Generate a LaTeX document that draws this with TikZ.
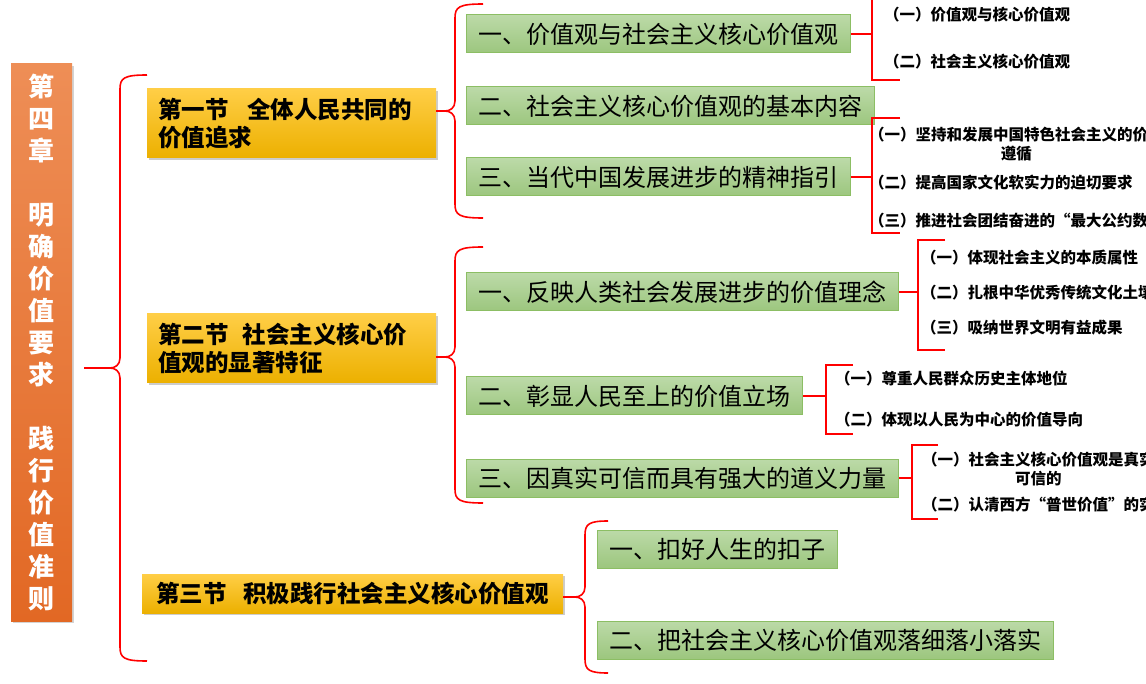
\documentclass[tikz,border=0pt]{standalone}
\usepackage{fontspec}
\setmainfont{Noto Sans CJK SC}
\newfontfamily\itemfont[RawFeature=+fwid]{Noto Sans CJK SC}
\usetikzlibrary{shadows}

\definecolor{chaptop}{RGB}{238,142,86}
\definecolor{chapbot}{RGB}{226,104,36}
\definecolor{secttop}{RGB}{255,206,70}
\definecolor{sectbot}{RGB}{236,176,0}
\definecolor{topictop}{RGB}{188,218,168}
\definecolor{topicbot}{RGB}{156,198,126}
\definecolor{topicline}{RGB}{140,190,100}
\definecolor{linkred}{RGB}{255,0,0}

% curly brace: spine x, end x, top y, tip y, bottom y
\newcommand{\curlybrace}[5]{%
  \draw[BraceStyle] (#2,#3) .. controls ({#1+4},#3) and (#1,{#3+3}) .. (#1,{#3+14})
    -- (#1,{#4-10}) .. controls (#1,{#4-3}) and ({#1-5},#4) .. ({#1-10},#4)
    .. controls ({#1-5},#4) and (#1,{#4+3}) .. (#1,{#4+10})
    -- (#1,{#5-14}) .. controls (#1,{#5-3}) and ({#1+4},#5) .. (#2,#5);}
% square bracket: spine x, tick x, top y, bottom y
\newcommand{\squarebracket}[4]{%
  \draw[EdgeStyle] (#2,#3) -- (#1,#3) -- (#1,#4) -- (#2,#4);}

\begin{document}
\begin{tikzpicture}[x=1pt,y=-1pt]
        \useasboundingbox (0,0) rectangle (1146,684);
        \tikzset{EdgeStyle/.style={draw=linkred, line width=1.8pt},
        BraceStyle/.style={EdgeStyle, line width=1.6pt},
        ChapterStyle/.style={rectangle, inner sep=0pt, minimum width=61pt,
          minimum height=557pt, top color=chaptop, bottom color=chapbot,
          text=white, align=center, font=\bfseries\fontsize{26}{32}\selectfont,
          drop shadow={opacity=.35, shadow xshift=2pt, shadow yshift=-2pt}},
        SectionStyle/.style={rectangle, inner xsep=11pt, inner ysep=0pt,
          top color=secttop, bottom color=sectbot,
          font=\bfseries\fontsize{23.5}{28}\selectfont,
          drop shadow={opacity=.4, shadow xshift=2pt, shadow yshift=-2pt}},
        TopicStyle/.style={rectangle, anchor=west, inner xsep=12pt, inner ysep=0pt,
          minimum height=38pt, draw=topicline, line width=1pt,
          top color=topictop, bottom color=topicbot,
          font=\fontsize{24}{28}\selectfont},
        ItemStyle/.style={anchor=west, inner sep=0pt, align=center,
          font=\itemfont\bfseries\fontsize{15.5}{19}\selectfont}}

        \node[ChapterStyle] (ch) at (41.5,342.5)
          {第\\四\\章\\[32pt]明\\确\\价\\值\\要\\求\\[32pt]践\\行\\价\\值\\准\\则};

        % sections
        \node[SectionStyle, minimum width=289pt, minimum height=69pt,
          text width=267pt, align=left] (s1) at (291.5,123.5)
          {第一节\hspace{0.8em}全体人民共同的\\价值追求};
        \node[SectionStyle, minimum width=289pt, minimum height=69pt,
          text width=267pt, align=left] (s2) at (291.5,348.5)
          {第二节\hspace{0.6em}社会主义核心价\\值观的显著特征};
        \node[SectionStyle, minimum width=421pt, minimum height=39pt] (s3) at (352.5,593.5)
          {第三节\hspace{0.7em}积极践行社会主义核心价值观};

        % topics
        \node[TopicStyle] (a1) at (466,34) {一、价值观与社会主义核心价值观};
        \node[TopicStyle] (a2) at (466,106) {二、社会主义核心价值观的基本内容};
        \node[TopicStyle] (a3) at (466,177) {三、当代中国发展进步的精神指引};
        \node[TopicStyle] (b1) at (466,292) {一、反映人类社会发展进步的价值理念};
        \node[TopicStyle] (b2) at (466,396) {二、彰显人民至上的价值立场};
        \node[TopicStyle] (b3) at (466,478) {三、因真实可信而具有强大的道义力量};
        \node[TopicStyle] (c1) at (597,549) {一、扣好人生的扣子};
        \node[TopicStyle] (c2) at (597,640) {二、把社会主义核心价值观落细落小落实};

        % items
        \node[ItemStyle] (a1x) at (884,15) {（一）价值观与核心价值观};
        \node[ItemStyle] (a1y) at (884,62) {（二）社会主义核心价值观};
        \node[ItemStyle] (a3x) at (869,144) {（一）坚持和发展中国特色社会主义的价值\\遵循};
        \node[ItemStyle] (a3y) at (869,183) {（二）提高国家文化软实力的迫切要求};
        \node[ItemStyle] (a3z) at (869,221) {（三）推进社会团结奋进的“最大公约数”};
        \node[ItemStyle] (b1x) at (921,258) {（一）体现社会主义的本质属性};
        \node[ItemStyle] (b1y) at (921,293) {（二）扎根中华优秀传统文化土壤};
        \node[ItemStyle] (b1z) at (921,328) {（三）吸纳世界文明有益成果};
        \node[ItemStyle] (b2x) at (835,379) {（一）尊重人民群众历史主体地位};
        \node[ItemStyle] (b2y) at (835,420) {（二）体现以人民为中心的价值导向};
        \node[ItemStyle] (b3x) at (922,469) {（一）社会主义核心价值观是真实\\可信的};
        \node[ItemStyle] (b3y) at (922,505) {（二）认清西方“普世价值”的实质};

        % brace tips and bracket joints
        \coordinate (t0) at (110,368);
        \coordinate (t1) at (445,111);
        \coordinate (t2) at (445,357);
        \coordinate (t3) at (575,597);
        \coordinate (k1) at (872,34);
        \coordinate (k3) at (872,177);
        \coordinate (k4) at (918,292);
        \coordinate (k5) at (826,396);
        \coordinate (k6) at (912,478);

        \curlybrace{120}{147}{75}{368}{661}
        \curlybrace{455}{483}{4}{111}{218}
        \curlybrace{455}{483}{247}{357}{503}
        \curlybrace{585}{608}{521}{597}{673}
        \squarebracket{872}{900}{-6}{80}
        \squarebracket{872}{900}{118}{233}
        \squarebracket{918}{945}{240}{350}
        \squarebracket{826}{853}{365}{434}
        \squarebracket{912}{938}{445}{519}

        \draw[EdgeStyle, shorten <=12pt] (ch.east |- t0) -- (t0);
        \draw[EdgeStyle] (s1.east |- t1) -- (t1);
        \draw[EdgeStyle] (s2.east |- t2) -- (t2);
        \draw[EdgeStyle] (s3.east |- t3) -- (t3);
        \draw[EdgeStyle] (a1.east) -- (k1);
        \draw[EdgeStyle] (a3.east) -- (k3);
        \draw[EdgeStyle] (b1.east) -- (k4);
        \draw[EdgeStyle] (b2.east) -- (k5);
        \draw[EdgeStyle] (b3.east) -- (k6);
    \end{tikzpicture}
\end{document}
